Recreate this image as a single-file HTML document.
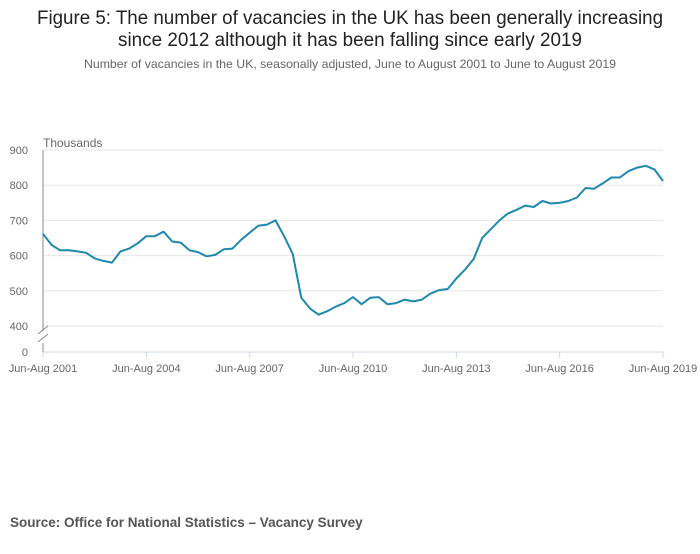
<!DOCTYPE html>
<html><head><meta charset="utf-8"><style>
body{margin:0;background:#fff;width:700px;height:549px;overflow:hidden;font-family:"Liberation Sans",sans-serif}
</style></head><body>
<svg id="chart" width="700" height="549" xmlns="http://www.w3.org/2000/svg" font-family="Liberation Sans, sans-serif">
<text x="350" y="24" text-anchor="middle" font-size="19" fill="#222" textLength="626" lengthAdjust="spacingAndGlyphs">Figure 5: The number of vacancies in the UK has been generally increasing</text>
<text x="350" y="46" text-anchor="middle" font-size="19" fill="#222" textLength="464" lengthAdjust="spacingAndGlyphs">since 2012 although it has been falling since early 2019</text>
<text x="350" y="68" text-anchor="middle" font-size="12" fill="#666" textLength="532" lengthAdjust="spacingAndGlyphs">Number of vacancies in the UK, seasonally adjusted, June to August 2001 to June to August 2019</text>
<text x="43" y="147" font-size="12" fill="#666">Thousands</text>
<g id="grid"></g><g id="ticks"></g>
<path id="series" fill="none" stroke="#1f88ad" stroke-width="2" stroke-linejoin="round"/>
<text x="10" y="527" font-size="13.5" font-weight="bold" fill="#555">Source: Office for National Statistics – Vacancy Survey</text>
</svg>
<script>
const xLabels=["Jun-Aug 2001","Jun-Aug 2004","Jun-Aug 2007","Jun-Aug 2010","Jun-Aug 2013","Jun-Aug 2016","Jun-Aug 2019"];
const yTicks=[400,500,600,700,800,900];
const values=[662,630,615,615,612,608,592,585,580,612,620,635,655,655,668,640,637,615,610,598,602,618,620,645,665,685,688,700,655,605,480,450,432,442,455,465,482,462,480,482,462,465,475,470,475,492,502,505,535,560,590,650,675,700,720,730,742,738,755,748,750,755,765,792,790,805,822,822,840,850,855,845,812];
const NS="http://www.w3.org/2000/svg";
const x0=43,x1=663;
const xs=i=>x0+(x1-x0)*i/(values.length-1);
const ys=v=>150+(900-v)*0.352;
const grid=document.getElementById('grid'),ticks=document.getElementById('ticks');
function mk(tag,attrs,parent){const e=document.createElementNS(NS,tag);for(const k in attrs)e.setAttribute(k,attrs[k]);parent.appendChild(e);return e;}
yTicks.forEach(v=>{
 const l=mk('line',{x1:x0,x2:x1,y1:ys(v),y2:ys(v),stroke:'#e6e6e6'},grid);
 
 
 const t=mk('text',{x:28,y:ys(v)+4,'font-size':11,fill:'#666','text-anchor':'end'},ticks);
 t.textContent=v;
 
 
});
const z=mk('text',{x:28,y:356,'font-size':11,fill:'#666','text-anchor':'end'},ticks);z.textContent='0';


const ax=mk('path',{d:'M43 150V331M43 343V352',stroke:'#888',fill:'none'},ticks);


const br=mk('path',{d:'M38 334L48 326M38 342L48 334',stroke:'#888',fill:'none'},ticks);


const xa=mk('line',{x1:x0,x2:x1,y1:352,y2:352,stroke:'#ccd6eb'},ticks);


xLabels.forEach((s,i)=>{
 const x=x0+(x1-x0)*i/(xLabels.length-1);
 const tk=mk('line',{x1:x,x2:x,y1:352,y2:358,stroke:'#ccd6eb'},ticks);
 
 
 const t=mk('text',{x:x,y:372,'font-size':11,fill:'#666','text-anchor':'middle'},ticks);
 t.textContent=s;
 
 
});
document.getElementById('series').setAttribute('d',values.map((v,i)=>(i?'L':'M')+xs(i).toFixed(1)+' '+ys(v).toFixed(1)).join(''));
</script>
</body></html>
